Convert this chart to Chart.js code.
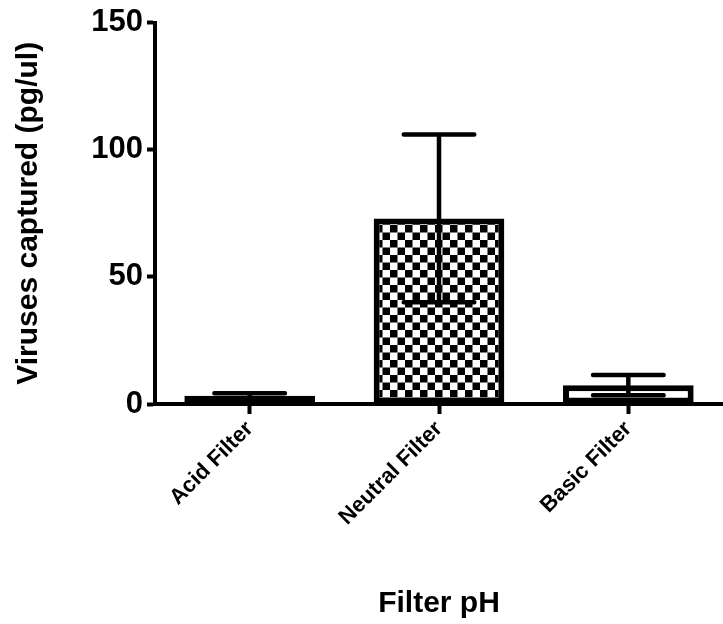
<!DOCTYPE html>
<html>
  <head>
    <meta charset="utf-8" />
    <title>Viruses captured by filter pH</title>
    <style>
      html, body { margin: 0; padding: 0; background: #fff; }
      #wrap { width: 723px; height: 624px; }
    </style>
  </head>
  <body>
    <div id="wrap"><canvas id="screen"></canvas></div>
    <script src="https://cdn.jsdelivr.net/npm/chart.js@4/dist/chart.umd.min.js"></script>
    <script>
      const categories = ["Acid Filter", "Neutral Filter", "Basic Filter"];
      const means = [3.2, 73, 7.4];
      const sds = [1.0, 33, 4.0];
      const yTicks = [0, 50, 100, 150];

      const FONT = "'Liberation Sans', Arial, sans-serif";

      // checkerboard fill for the middle bar
      function checker(size) {
        const c = document.createElement("canvas");
        c.width = size * 2;
        c.height = size * 2;
        const g = c.getContext("2d");
        g.fillStyle = "#fff";
        g.fillRect(0, 0, c.width, c.height);
        g.fillStyle = "#000";
        g.fillRect(0, 0, size, size);
        g.fillRect(size, size, size, size);
        return g.createPattern(c, "repeat");
      }

      // mean +/- SD whiskers with caps, drawn over the bars
      const errorBars = {
        id: "errorBars",
        afterDatasetsDraw(chart) {
          const { ctx, scales } = chart;
          const meta = chart.getDatasetMeta(0);
          ctx.save();
          ctx.strokeStyle = "#000";
          ctx.lineWidth = 4.5;
          ctx.lineCap = "round";
          meta.data.forEach((bar, i) => {
            const x = bar.x;
            const half = bar.width * 0.27;
            const yTop = scales.y.getPixelForValue(means[i] + sds[i]);
            const yBot = scales.y.getPixelForValue(Math.max(0, means[i] - sds[i]));
            ctx.beginPath();
            ctx.moveTo(x, yTop);
            ctx.lineTo(x, yBot);
            ctx.moveTo(x - half, yTop);
            ctx.lineTo(x + half, yTop);
            ctx.moveTo(x - half, yBot);
            ctx.lineTo(x + half, yBot);
            ctx.stroke();
          });
          ctx.restore();
        }
      };

      const ctx = document.getElementById("screen").getContext("2d");

      const chart = new Chart(ctx, {
        type: "bar",
        data: {
          labels: categories,
          datasets: [
            {
              data: means,
              backgroundColor: ["#fff", checker(7.5), "#fff"],
              borderColor: "#000",
              borderWidth: 6,
              borderSkipped: false,
              categoryPercentage: 1,
              barPercentage: 0.69
            }
          ]
        },
        options: {
          responsive: true,
          maintainAspectRatio: false,
          animation: false,
          layout: { padding: { top: 21, right: 0, left: 0, bottom: 0 } },
          plugins: {
            legend: { display: false },
            tooltip: { enabled: false }
          },
          scales: {
            x: {
              offset: true,
              grid: {
                offset: false,
                drawOnChartArea: false,
                drawTicks: true,
                tickLength: 10,
                tickWidth: 4,
                tickColor: "#000"
              },
              border: { display: true, width: 4, color: "#000" },
              ticks: {
                color: "#000",
                minRotation: 45,
                maxRotation: 45,
                padding: 2,
                font: { family: FONT, size: 22, weight: "bold" }
              },
              title: {
                display: true,
                text: "Filter pH",
                color: "#000",
                padding: { top: 0, bottom: 2 },
                font: { family: FONT, size: 30, weight: "bold" }
              },
              afterFit(scale) { scale.height = 220; }
            },
            y: {
              min: 0,
              max: 150,
              afterBuildTicks(scale) {
                scale.ticks = yTicks.map(v => ({ value: v }));
              },
              grid: {
                drawOnChartArea: false,
                drawTicks: true,
                tickLength: 8,
                tickWidth: 4,
                tickColor: "#000"
              },
              border: { display: true, width: 4, color: "#000" },
              ticks: {
                color: "#000",
                padding: 4,
                font: { family: FONT, size: 31, weight: "bold" }
              },
              title: {
                display: true,
                text: "Viruses captured (pg/ul)",
                color: "#000",
                padding: { top: 11, bottom: 0 },
                font: { family: FONT, size: 30, weight: "bold" }
              },
              afterFit(scale) { scale.width = 155; }
            }
          }
        },
        plugins: [errorBars]
      });
    </script>
  </body>
</html>
